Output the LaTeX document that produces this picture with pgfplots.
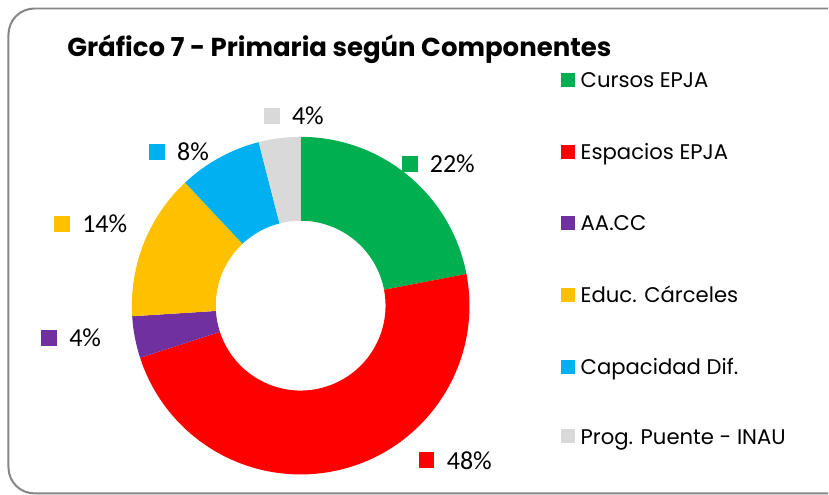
\documentclass[border=0pt]{standalone}
\usepackage{pgfplots}
\pgfplotsset{compat=1.18}
\usepackage{fontspec}
\setmainfont{Poppins}
\newfontfamily\lblfont{Carlito}

\definecolor{cCur}{HTML}{00B050}
\definecolor{cEsp}{HTML}{FF0000}
\definecolor{cAAC}{HTML}{7030A0}
\definecolor{cCar}{HTML}{FFC000}
\definecolor{cCap}{HTML}{00B0F0}
\definecolor{cPue}{HTML}{D9D9D9}
\definecolor{frame}{HTML}{868686}

\begin{document}
\begin{tikzpicture}
% 1 unit = 1 px of the reference = 0.5pt
\begin{axis}[
    scale only axis, width=414.5pt, height=247.5pt,
    xmin=0, xmax=829, ymin=0, ymax=495, y dir=reverse,
    hide axis, clip=false
]
\path (axis cs:0,0) rectangle (axis cs:829,495);
\coordinate (c) at (axis cs:301,306);
% frame
\draw[frame, line width=1pt, rounded corners=13pt]
    (axis cs:829,8.5) -- (axis cs:8.5,8.5) -- (axis cs:8.5,494) -- (axis cs:829,494);
% title
\node[anchor=base west, inner sep=0pt, font=\fontsize{13}{15}\selectfont\bfseries]
    at (axis cs:67,57) {Gráfico 7 - Primaria según Componentes};
% legend
\foreach \y/\col/\txt in {80/cCur/Cursos EPJA, 152/cEsp/Espacios EPJA, 223/cAAC/AA.CC,
                          295/cCar/Educ. Cárceles, 367/cCap/Capacidad Dif.,
                          437/cPue/Prog. Puente - INAU}{
  \edef\temp{\noexpand\fill[\col] (axis cs:562,\y-7) rectangle (axis cs:576,\y+7);
    \noexpand\node[anchor=base west, inner sep=0pt, font=\noexpand\fontsize{10.6}{13}\noexpand\selectfont]
      at (axis cs:581,\y+8) {\txt};}
  \temp
}
% data labels
\foreach \x/\y/\col/\txt in {410/164/cCur/22\%, 427/461/cEsp/48\%, 49/338/cAAC/4\%,
                             62/224/cCar/14\%, 157/152/cCap/8\%, 272/116/cPue/4\%}{
  \edef\temp{\noexpand\fill[\col] (axis cs:\x-8,\y-8) rectangle (axis cs:\x+8,\y+8);
    \noexpand\node[anchor=base west, inner sep=0pt, font=\noexpand\lblfont\noexpand\fontsize{13}{15}\noexpand\selectfont]
      at (axis cs:\x+20,\y+9) {\txt};}
  \temp
}
\end{axis}
% donut: values in percent, clockwise from the top
\gdef\angS{90}
\foreach \v/\col in {22/cCur, 48/cEsp, 4/cAAC, 14/cCar, 8/cCap, 4/cPue}{
  \pgfmathsetmacro\angE{\angS-3.6*\v}
  \fill[\col, shift={(c)}] (\angS:84.5pt) arc[start angle=\angS, end angle=\angE, radius=84.5pt]
      -- (\angE:42.5pt) arc[start angle=\angE, end angle=\angS, radius=42.5pt] -- cycle;
  \xdef\angS{\angE}
}
\end{tikzpicture}
\end{document}
